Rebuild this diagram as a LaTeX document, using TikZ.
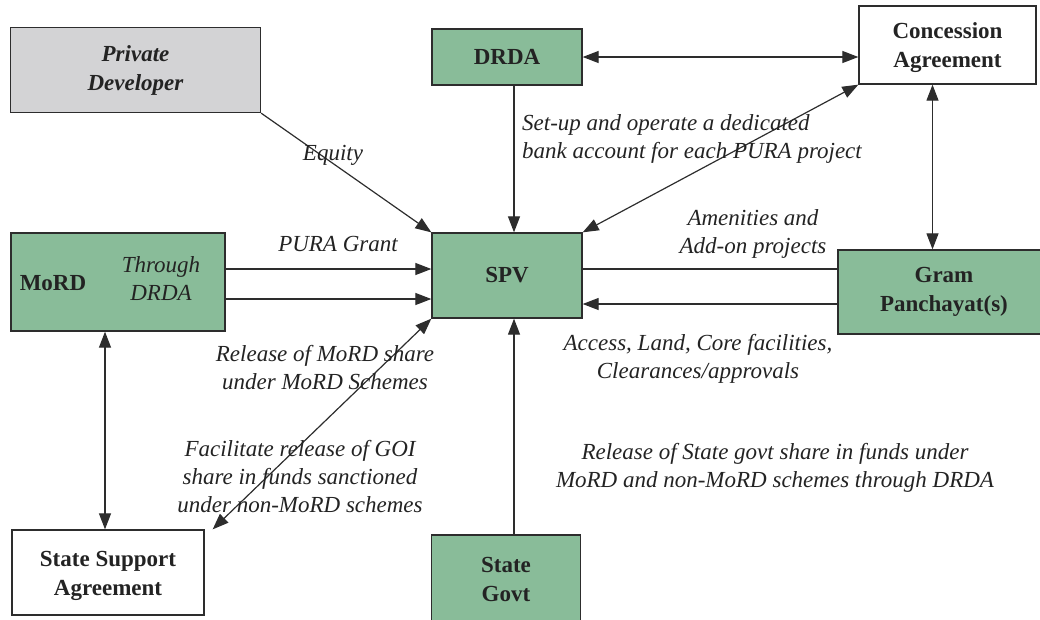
\documentclass[tikz,border=0pt]{standalone}
\usepackage{fontspec}
\setmainfont{Liberation Serif}
\usetikzlibrary{arrows.meta}
\definecolor{boxgreen}{RGB}{137,188,153}
\definecolor{boxgray}{RGB}{211,211,213}
\definecolor{edgecol}{RGB}{45,45,45}
\definecolor{txtcol}{RGB}{35,35,35}
\begin{document}
\begin{tikzpicture}[x=1pt,y=-1pt,
  box/.style={draw=edgecol,line width=1.3pt,inner sep=0pt,align=center,
    font=\fontsize{23}{29}\selectfont\bfseries,text=txtcol},
  gbox/.style={box,fill=boxgreen},
  lbl/.style={font=\fontsize{23}{28}\selectfont\itshape,text=txtcol,align=center,inner sep=0pt},
  conn/.style={draw=edgecol,line width=1.2pt},
  tipa/.style={-{Triangle[length=16pt,width=12pt]}},
  tipb/.style={{Triangle[length=16pt,width=12pt]}-{Triangle[length=16pt,width=12pt]}}
]
\useasboundingbox (0,0) rectangle (1040,619);
% nodes
\node[box,fill=boxgray,minimum width=250pt,minimum height=85pt,font=\fontsize{23}{29}\selectfont\bfseries\itshape] (pd) at (135.5,70) {Private\\Developer};
\node[gbox,minimum width=150pt,minimum height=56pt] (drda) at (507,57) {DRDA};
\node[box,fill=white,minimum width=177pt,minimum height=78pt] (conc) at (947.5,45) {};
\node[box,draw=none,fill=none] (conct) at (947.5,47.5) {Concession\\Agreement};
\node[gbox,minimum width=214pt,minimum height=98pt] (mord) at (118,282) {};
\node[gbox,minimum width=150pt,minimum height=85pt] (spv) at (507,275.5) {SPV};
\node[gbox,minimum width=212pt,minimum height=84pt] (gp) at (944,292) {Gram\\Panchayat(s)};
\node[box,fill=white,minimum width=192pt,minimum height=85pt] (ssa) at (108,572.5) {};
\node[box,draw=none,fill=none] (ssat) at (108,576) {State Support\\Agreement};
\node[gbox,minimum width=149pt,minimum height=88pt] (sg) at (506,579) {State\\Govt};
% texts inside MoRD
\node[box,draw=none,fill=none] (mordt) at (53,283) {MoRD};
\node[lbl] (thr) at (161,279) {Through\\DRDA};
% connectors
\draw[conn,tipa] (pd.south east) -- (spv.north west);
\draw[conn,tipb] (drda.east) -- (drda.east -| conc.west);
\draw[conn,tipa] ([xshift=7pt]drda.south) -- ([xshift=7pt]drda.south |- spv.north);
\draw[conn,tipb] (spv.north east) -- (conc.south west);
\draw[conn,tipb] ([xshift=-15pt]conc.south) -- ([xshift=-15pt]conc.south |- gp.north);
\draw[conn,tipa] ([yshift=13pt]mord.east) -- ([yshift=13pt]mord.east -| spv.west);
\draw[conn,tipa] ([yshift=-17pt]mord.east) -- ([yshift=-17pt]mord.east -| spv.west);
\draw[conn] ([yshift=6.5pt]spv.east) -- ([yshift=6.5pt]spv.east -| gp.west);
\draw[conn,tipa] ([yshift=-28.5pt]spv.east -| gp.west) -- ([yshift=-28.5pt]spv.east);
\draw[conn,tipb] ([xshift=-13pt]mord.south) -- ([xshift=-13pt]mord.south |- ssa.north);
\draw[conn,tipb] (spv.south west) -- ([xshift=8pt]ssa.north east);
\draw[conn,tipa] ([xshift=8pt]sg.north) -- ([xshift=8pt]sg.north |- spv.south);
% labels
\node[lbl] (l1) at (333,155) {Equity};
\node[lbl,align=left,anchor=west] (l2) at (522,139) {Set-up and operate a dedicated\\bank account for each PURA project};
\node[lbl] (l3) at (338,244) {PURA Grant};
\node[lbl] (l4) at (753,234) {Amenities and\\Add-on projects};
\node[lbl] (l5) at (698,359) {Access, Land, Core facilities,\\Clearances/approvals};
\node[lbl] (l6) at (325,368) {Release of MoRD share\\under MoRD Schemes};
\node[lbl] (l7) at (300,477) {Facilitate release of GOI\\share in funds sanctioned\\under non-MoRD schemes};
\node[lbl] (l8) at (775,468) {Release of State govt share in funds under\\MoRD and non-MoRD schemes through DRDA};
\end{tikzpicture}
\end{document}
